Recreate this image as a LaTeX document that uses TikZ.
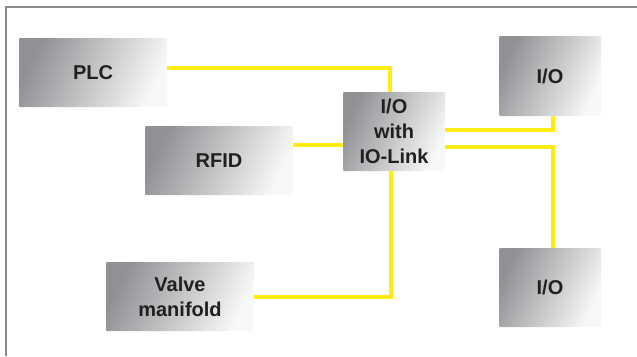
\documentclass[tikz,border=0pt]{standalone}
\usepackage{fontspec}
\setmainfont{Liberation Sans}
\usepackage{tikz}

\definecolor{cablecol}{RGB}{255,236,20}
\definecolor{boxdark}{RGB}{143,145,148}
\definecolor{boxlight}{RGB}{247,248,248}
\definecolor{textcol}{RGB}{35,31,32}
\definecolor{framecol}{RGB}{138,138,138}

\tikzset{
  device/.style={rectangle, rounded corners=1pt, shading=axis,
    top color=boxdark, bottom color=boxlight, shading angle=65,
    align=center, inner sep=0pt, text=textcol,
    font=\fontsize{20}{25}\selectfont\bfseries},
  widebox/.style={device, minimum width=148pt, minimum height=69pt},
  smallbox/.style={device, minimum width=102pt, minimum height=79pt},
  cable/.style={draw=cablecol, line width=4pt},
  frameline/.style={draw=framecol, line width=1.8pt}
}

\begin{document}
\begin{tikzpicture}[x=1pt,y=-1pt]
  \useasboundingbox (0,0) rectangle (637,356);
  \draw[frameline] (637,7) -- (6,7) -- (6,356);

  % devices
  \node[widebox]  (plc)    at (93,72.5)   {PLC};
  \node[widebox]  (rfid)   at (219,160.5) {RFID};
  \node[widebox]  (valve)  at (180,296.5) {Valve\\manifold};
  \node[smallbox] (iolink) at (394,131.5) {I/O\\with\\IO-Link};
  \node[smallbox, minimum height=80pt] (iotop) at (550,76) {I/O};
  \node[smallbox] (iobot)  at (550,287.5) {I/O};

  % cables
  \draw[cable] ([yshift=4.5pt]plc.east) -| ([xshift=-4pt]iolink.north);
  \draw[cable] ([yshift=-13.5pt]iolink.west) coordinate (r) -- (r -| rfid.east);
  \draw[cable] (valve.east) -| ([xshift=-3pt]iolink.south);
  \draw[cable] ([yshift=1.5pt]iolink.east) -| ([xshift=3pt]iotop.south);
  \draw[cable] ([yshift=-15.5pt]iolink.east) -| ([xshift=3pt]iobot.north);
\end{tikzpicture}
\end{document}
